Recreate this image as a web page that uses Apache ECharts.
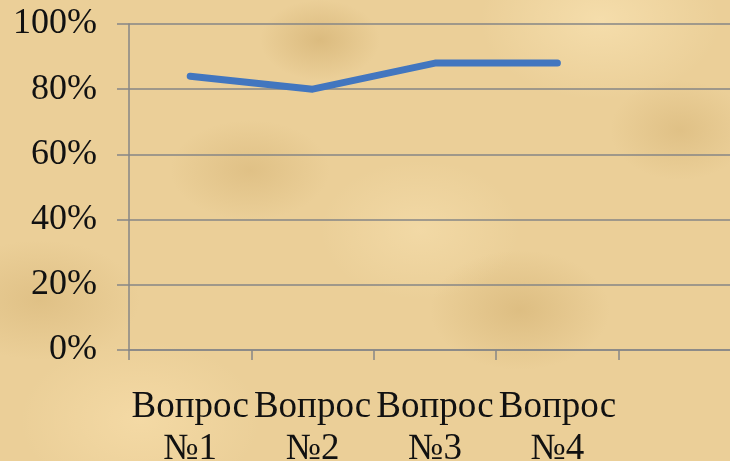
<!DOCTYPE html>
<html>
<head>
<meta charset="utf-8">
<script src="https://cdn.jsdelivr.net/npm/echarts@6/dist/echarts.min.js"></script>
<style>
html,body{margin:0;padding:0;}
body{
  width:730px;height:461px;overflow:hidden;
  background-color:#EBCF98;
  background-image:
    radial-gradient(ellipse 60px 40px at 320px 40px, rgba(190,150,80,0.35), rgba(190,150,80,0) 100%),
    radial-gradient(ellipse 80px 50px at 250px 170px, rgba(190,150,80,0.25), rgba(190,150,80,0) 100%),
    radial-gradient(ellipse 90px 60px at 520px 310px, rgba(190,150,80,0.3), rgba(190,150,80,0) 100%),
    radial-gradient(ellipse 70px 50px at 680px 130px, rgba(190,150,80,0.25), rgba(190,150,80,0) 100%),
    radial-gradient(ellipse 100px 60px at 40px 300px, rgba(190,150,80,0.25), rgba(190,150,80,0) 100%),
    radial-gradient(ellipse 120px 80px at 600px 20px, rgba(255,235,190,0.5), rgba(255,235,190,0) 100%),
    radial-gradient(ellipse 120px 80px at 140px 420px, rgba(255,230,180,0.45), rgba(255,230,180,0) 100%),
    radial-gradient(ellipse 100px 70px at 420px 230px, rgba(255,235,190,0.35), rgba(255,235,190,0) 100%);
}
#chart{width:730px;height:461px;}
</style>
</head>
<body>
<div id="chart"></div>
<script>
const categories = ['Вопрос\n№1', 'Вопрос\n№2', 'Вопрос\n№3', 'Вопрос\n№4', ''];
const values = [84, 80, 88, 88, null];
const yTicks = { min: 0, max: 100, interval: 20 };

const chart = echarts.init(document.getElementById('chart'));
const font = '"Liberation Serif", "Times New Roman", serif';
chart.setOption({
  backgroundColor: 'transparent',
  animation: false,
  grid: { left: 129, top: 24, width: 612, height: 326, containLabel: false, outerBoundsMode: 'none' },
  xAxis: {
    type: 'category',
    data: categories,
    boundaryGap: true,
    axisLine: { show: true, lineStyle: { color: '#868686', width: 1.5 } },
    axisTick: { show: true, length: 10, interval: 0, lineStyle: { color: '#868686', width: 1.5 } },
    axisLabel: {
      interval: 0, color: '#111', fontFamily: font, fontSize: 37,
      lineHeight: 42, margin: 36
    },
    splitLine: { show: false }
  },
  yAxis: {
    type: 'value',
    min: yTicks.min, max: yTicks.max, interval: yTicks.interval,
    axisLine: { show: true, lineStyle: { color: '#868686', width: 1.5 } },
    axisTick: { show: true, inside: false, length: 12, lineStyle: { color: '#868686', width: 1.5 } },
    axisLabel: {
      color: '#111', fontFamily: font, fontSize: 36, margin: 32,
      formatter: v => v + '%'
    },
    splitLine: { show: true, lineStyle: { color: '#868686', width: 1.5 } }
  },
  series: [{
    type: 'line',
    data: values,
    showSymbol: false,
    symbol: 'none',
    lineStyle: { color: '#4276BF', width: 7, cap: 'round', join: 'round' },
    itemStyle: { color: '#4276BF' }
  }]
});
</script>
</body>
</html>
